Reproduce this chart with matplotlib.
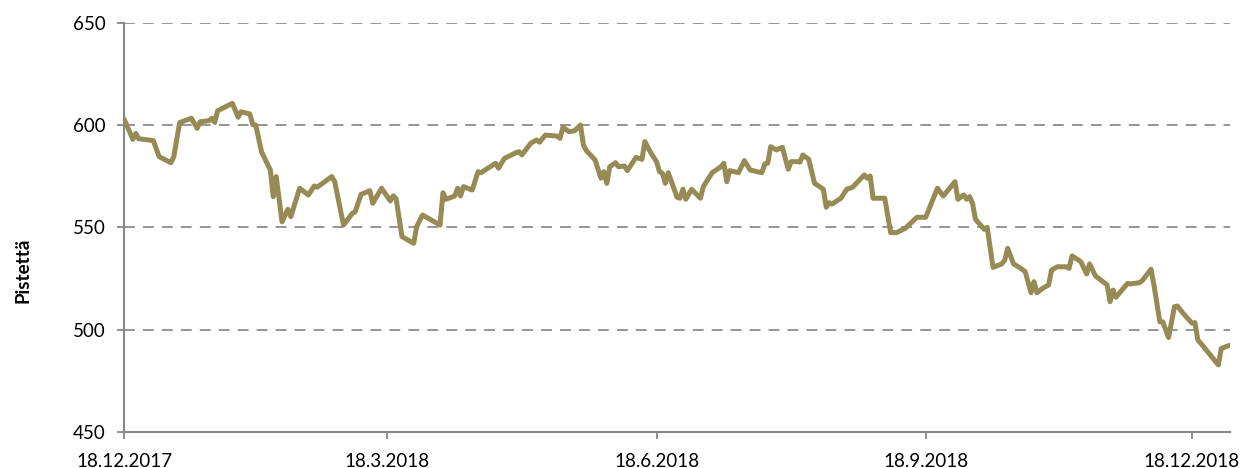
import numpy as np
import pandas as pd
import matplotlib
matplotlib.use('Agg')
import matplotlib.pyplot as plt

plt.rcParams['font.family'] = ['Lato', 'DejaVu Sans']

# days since 18.12.2017 and index level (points)
start = pd.Timestamp('2017-12-18')
days = [0, 3, 4, 5, 10, 12, 16, 17, 19, 23, 25, 26, 29, 30, 31, 32, 37, 39, 40, 43, 44, 45,
        47, 50, 51, 52, 54, 56, 57, 60, 63, 65, 66, 71, 72, 75, 78, 79, 81, 84, 85, 88,
        91, 92, 93, 95, 99, 100, 102, 108, 109, 110, 113, 114, 115, 116, 119, 121, 122,
        127, 128, 130, 134, 135, 136, 139, 141, 142, 144, 148, 149, 150, 152, 154, 156,
        157, 158, 161, 163, 164, 165, 166, 168, 169, 171, 172, 175, 177, 178, 180, 182,
        183, 184, 185, 186, 189, 190, 191, 192, 194, 197, 198, 201, 204, 205, 206, 207,
        210, 212, 214, 218, 219, 220, 221, 223, 225, 227, 228, 230, 231, 232, 234, 236,
        239, 240, 241, 242, 245, 247, 249, 253, 254, 255, 256, 260, 262, 264, 267, 271,
        274, 275, 278, 280, 284, 285, 287, 288, 289, 290, 291, 294, 295, 297, 300, 301,
        302, 304, 306, 308, 310, 311, 312, 314, 316, 317, 319, 322, 323, 324, 327, 329,
        330, 332, 336, 337, 338, 339, 343, 344, 347, 348, 351, 352, 354, 355, 357, 359,
        360, 362, 365, 366, 367, 368, 374, 375, 378]
points = [603, 593.1, 596, 593.4, 592.5, 584.6, 581.7, 584.6, 601.3, 603.4, 598.5, 601.7,
          602.2, 603.4, 601.4, 607.1, 610.7, 603.9, 606.6, 605.5, 600.3, 600.1,
          587, 578.1, 565.1, 574.9, 552.8, 558.9, 555.3, 569.2, 565.9, 570.3, 569.7,
          574.9, 572.4, 551.2, 556.9, 557.7, 566.2, 568, 561.8, 569.2,
          563, 565.5, 564, 545.5, 542.3, 550.4, 556.1, 551.2, 567, 563.8, 565.4, 569.2,
          565.4, 570, 568.3, 577.3, 576.8,
          581.4, 579, 583.8, 586.6, 587.1, 585.5, 591.2, 592.8, 591.7, 595.2, 594.7,
          593.6, 599, 596.9, 597.3, 600.1,
          590.3, 587.6, 583, 574.1, 577.3, 571.6, 579.7, 581.7, 579.7, 580.1, 577.8,
          584.3, 583.3, 592, 586.6, 582.2,
          577.3, 576.5, 571.6, 576.8, 564.8, 564.3, 568.7, 563.8, 568.7, 564.3, 570,
          576.8, 579.7, 581.4, 572.4, 577.8,
          576.8, 582.7, 578.1, 576.8, 581.1, 581.4, 589.5, 587.9, 589.2, 578.5, 582.2,
          582.2, 582, 585.5, 583.3, 571.6,
          568.7, 559.9, 562.1, 561.5, 564.3, 568.7, 569.7, 575.7, 574.1, 575.2, 564.3,
          564.3, 547.5, 547.5, 549.6, 555,
          555, 558.6, 569.2, 565.4, 572.4, 563.8, 565.9, 563.8, 565.1, 561.8, 554,
          549.1, 550.1, 530.5, 532.2, 534.1,
          539.8, 532.2, 530.5, 528.4, 518.1, 523.5, 518.1, 520.3, 521.9, 529.2, 530.8,
          530.8, 530, 536.1, 533.3, 527.3,
          532.2, 526.3, 521.9, 513.7, 519.4, 515.9, 522.7, 522.4, 523, 524, 529.6,
          521.9, 503.9, 503.9, 496.2, 511.3,
          511.6, 508, 503.2, 503.5, 495, 493.4, 482.8, 490.8, 492.5]

tick_dates = ['2017-12-18', '2018-03-18', '2018-06-18', '2018-09-18', '2018-12-18']
tick_labels = ['18.12.2017', '18.3.2018', '18.6.2018', '18.9.2018', '18.12.2018']
yticks = [450, 500, 550, 600, 650]

dates = start + pd.to_timedelta(days, unit='D')

fig = plt.figure(figsize=(12.48, 4.68), dpi=100)
ax = fig.add_axes([0.0994, 0.0769, 0.8862, 0.874])

ax.plot(dates, points, color='#968a55', linewidth=3.6, solid_joinstyle='round',
        solid_capstyle='round', zorder=3)

ax.set_ylim(450, 650)
ax.set_yticks(yticks)
ax.set_xlim(start, pd.Timestamp('2018-12-31'))
ax.set_xticks(pd.to_datetime(tick_dates))
ax.set_xticklabels(tick_labels)

for y in yticks[1:]:
    ax.axhline(y, color='#8c8c8c', linewidth=1.3, linestyle=(0, (6, 4.5)), zorder=1)

for s in ['top', 'right']:
    ax.spines[s].set_visible(False)
for s in ['left', 'bottom']:
    ax.spines[s].set_color('#878787')
    ax.spines[s].set_linewidth(1.5)

ax.tick_params(axis='both', colors='#878787', length=5, width=1.3, labelsize=13.5,
               labelcolor='black')
ax.tick_params(axis='x', pad=10)
ax.tick_params(axis='y', pad=8)

fig.text(23 / 1248, 1 - 270 / 468, 'Pistettä', rotation=90, fontsize=13.5,
         fontweight='bold', ha='center', va='center')

fig.savefig('out.png', dpi=100)
